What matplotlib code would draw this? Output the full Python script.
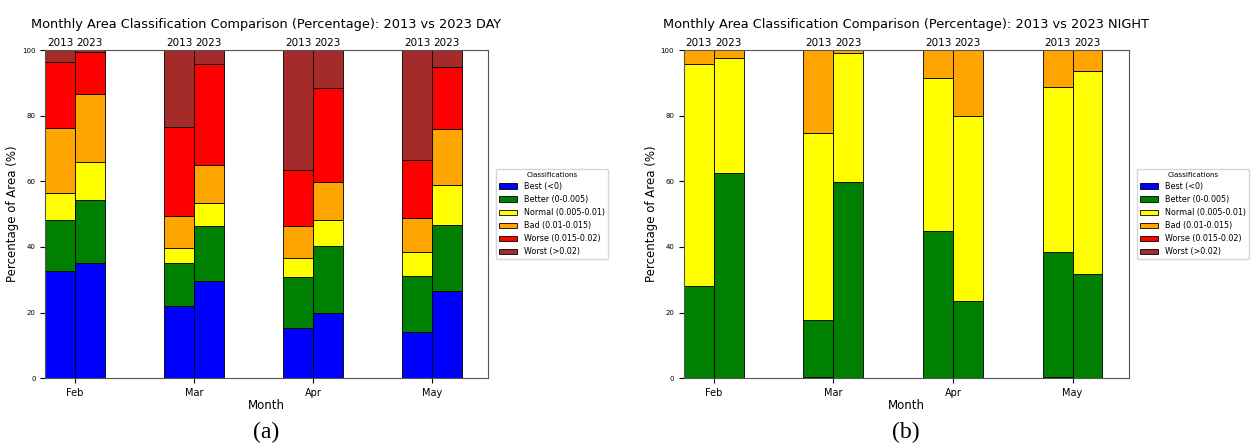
import numpy as np
import matplotlib
matplotlib.use("Agg")
import matplotlib.pyplot as plt

months = ["Feb", "Mar", "Apr", "May"]
years = ["2013", "2023"]
classes = ["Best (<0)", "Better (0-0.005)", "Normal (0.005-0.01)",
           "Bad (0.01-0.015)", "Worse (0.015-0.02)", "Worst (>0.02)"]
colors = ["blue", "green", "yellow", "orange", "red", "brown"]

# percentages per class, one row per class, columns = months
day_2013 = [
    [32.6, 22.0, 15.3, 14.2],
    [15.5, 13.1, 15.6, 16.9],
    [8.2, 4.6, 5.6, 7.3],
    [20.1, 9.6, 9.9, 10.5],
    [20.0, 27.3, 17.0, 17.6],
    [3.6, 23.4, 36.6, 33.5],
]
day_2023 = [
    [35.2, 29.6, 20.0, 26.6],
    [19.0, 16.8, 20.3, 20.0],
    [11.6, 6.9, 8.0, 12.2],
    [20.7, 11.7, 11.6, 17.3],
    [12.9, 30.7, 28.5, 18.7],
    [0.6, 4.3, 11.6, 5.2],
]
night_2013 = [
    [0.1, 0.4, 0.0, 0.3],
    [28.0, 17.2, 44.9, 38.1],
    [67.8, 57.1, 46.6, 50.4],
    [4.1, 25.3, 8.5, 11.2],
    [0.0, 0.0, 0.0, 0.0],
    [0.0, 0.0, 0.0, 0.0],
]
night_2023 = [
    [0.0, 0.0, 0.0, 0.0],
    [62.4, 59.7, 23.5, 31.8],
    [35.2, 39.3, 56.4, 61.9],
    [2.4, 1.0, 20.1, 6.3],
    [0.0, 0.0, 0.0, 0.0],
    [0.0, 0.0, 0.0, 0.0],
]


def draw_panel(ax, data13, data23, title):
    x = np.arange(len(months))
    w = 0.25
    for k, (pos, data) in enumerate([(x - w / 2, data13), (x + w / 2, data23)]):
        bottom = np.zeros(len(months))
        for i, vals in enumerate(data):
            vals = np.array(vals)
            ax.bar(pos, vals, w, bottom=bottom, color=colors[i],
                   edgecolor="black", linewidth=0.6,
                   label=classes[i] if k == 0 else None)
            bottom += vals
    for xi in x:
        ax.text(xi - w / 2, 100.6, years[0], ha="center", va="bottom", fontsize=7.5)
        ax.text(xi + w / 2, 100.6, years[1], ha="center", va="bottom", fontsize=7.5)
    ax.set_xlim(-0.25, 3.47)
    ax.set_ylim(0, 100)
    ax.set_xticks(x)
    ax.set_xticklabels(months, fontsize=7)
    ax.tick_params(axis="y", labelsize=5)
    ax.set_xlabel("Month", fontsize=8.5, labelpad=1)
    ax.set_ylabel("Percentage of Area (%)", fontsize=8.5, labelpad=2)
    ax.set_title(title, fontsize=9.3, pad=16)
    for s in ax.spines.values():
        s.set_color("#555555")
    ax.legend(title="Classifications", loc="center left",
              bbox_to_anchor=(1.01, 0.5), fontsize=5.8, title_fontsize=5.2,
              handlelength=2.2)


fig = plt.figure(figsize=(12.57, 4.48), dpi=100)
ax1 = fig.add_axes([0.036, 0.156, 0.352, 0.732])
ax2 = fig.add_axes([0.544, 0.156, 0.354, 0.732])
draw_panel(ax1, day_2013, day_2023,
           "Monthly Area Classification Comparison (Percentage): 2013 vs 2023 DAY")
draw_panel(ax2, night_2013, night_2023,
           "Monthly Area Classification Comparison (Percentage): 2013 vs 2023 NIGHT")

fig.text(0.212, 0.01, "(a)", ha="center", va="bottom", fontsize=17,
         family="Liberation Serif")
fig.text(0.721, 0.01, "(b)", ha="center", va="bottom", fontsize=17,
         family="Liberation Serif")

fig.savefig("out.png", dpi=100)
